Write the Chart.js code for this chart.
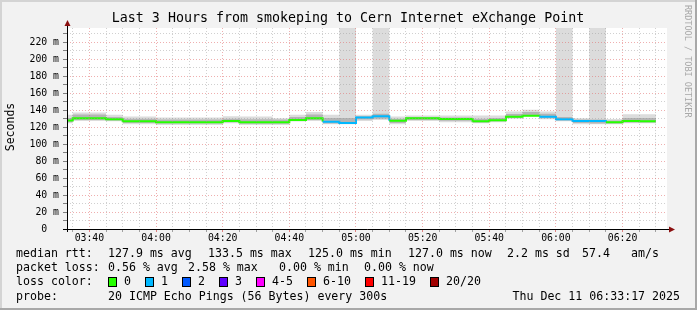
<!DOCTYPE html>
<html>
<head>
<meta charset="utf-8">
<script src="https://cdn.jsdelivr.net/npm/chart.js@4/dist/chart.umd.min.js"></script>
<style>
  html, body { margin: 0; padding: 0; background: #f2f2f2; }
  canvas { display: block; }
</style>
</head>
<body>
<canvas id="myChart" width="697" height="310"></canvas>
<script>
// start of each 5 minute step (last point closes the last step)
const stepTimes = ['03:30','03:35','03:40','03:45','03:50','03:55','04:00','04:05','04:10','04:15','04:20','04:25',
                   '04:30','04:35','04:40','04:45','04:50','04:55','05:00','05:05','05:10','05:15','05:20','05:25',
                   '05:30','05:35','05:40','05:45','05:50','05:55','06:00','06:05','06:10','06:15','06:20','06:25'];
const endTime = '06:30';

// median rtt in ms
const medianRtt = [128,130.5,130.5,129.4,127,127,126,126,125.9,125.9,127.4,126,
                   126,126,128.6,130.6,126.5,125.0,131.4,133,127.6,130.6,130.6,129.8,
                   129.8,127,128.2,132.5,133.5,132.5,129.4,127.4,127.4,125.9,127.4,127.0];
// lost pings (of 20) per step
const lossCount = [0,0,0,0,0,0,0,0,0,0,0,0,
                   0,0,0,0,1,1,1,1,0,0,0,0,
                   0,0,0,0,0,1,1,1,1,0,0,0];
// smoke: outer spread
const smokeTop = [134.6,137.5,137.5,134.6,132.6,132.6,131.4,131.4,131.4,131.4,132.8,132.6,
                  132.6,130.6,134.6,137.9,134.6,237,134.6,237,132.6,133.9,133.9,133.9,
                  133.9,133.9,133.9,138.6,140.6,138.6,237,130.6,237,129.8,135.3,135.3];
const smokeBot = [124.7,127.4,127.4,127,123.5,123.5,122.7,122.7,122.7,122.7,124.7,122.7,
                  122.7,122.7,126.7,127.4,123.5,123.5,127.4,128.6,123.5,127.4,127.4,126,
                  126,124.7,126,130,132.6,129.4,127,123.5,123.5,123.5,124.7,124.7];
// smoke: inner spread
const innerTop = [131,135,135,132,130,130,129,129,129,129,130,129.5,
                  129.5,129,132,135,131,131,133,136,130,132,132,131.5,
                  131.5,130,131,135.5,138,136,132,129,129,128,131,131];
const innerBot = [126,128.5,128.5,128,125,125,124.5,124.5,124.5,124.5,126,124,
                  124,124,127.5,128.5,124.5,124,129,130,125,128.5,128.5,127.5,
                  127.5,125.5,127,131,133,130.5,128,125,124.5,124.5,125.5,125.5];

const xTickLabels = ['03:40','04:00','04:20','04:40','05:00','05:20','05:40','06:00','06:20'];
const yTickLabels = ['0  ','20 m','40 m','60 m','80 m','100 m','120 m','140 m','160 m','180 m','200 m','220 m'];

const lossLabels = ['0','1','2','3','4-5','6-10','11-19','20/20'];
const lossColors = ['#26ff00','#00b8ff','#0059ff','#5e00ff','#ff00ff','#ff5500','#ff0000','#a10000'];

const MONO = '"DejaVu Sans Mono", monospace';

function toMin(s) {
    const p = s.split(':').map(Number);
    return p[0] * 60 + p[1];
}
function fmt(v) {
    const h = Math.floor(v / 60), m = Math.round(v % 60);
    return String(h).padStart(2, '0') + ':' + String(m).padStart(2, '0');
}
function pts(arr) {
    const p = stepTimes.map((t, i) => ({x: toMin(t), y: arr[i]}));
    p.push({x: toMin(endTime), y: arr[arr.length - 1]});
    return p;
}
function lossIdx(n) {
    if (n <= 3) return n;
    if (n <= 5) return 4;
    if (n <= 10) return 5;
    if (n <= 19) return 6;
    return 7;
}

const GRID_MAJOR = 'rgba(226,110,110,0.55)';
const GRID_MINOR = 'rgba(150,150,150,0.45)';

const decor = {
    id: 'decor',
    beforeDraw(chart) {
        const c = chart.ctx, a = chart.chartArea;
        c.save();
        c.fillStyle = '#f2f2f2';
        c.fillRect(0, 0, 697, 310);
        // frame shading
        c.fillStyle = '#d4d4d4';
        c.fillRect(0, 0, 697, 2);
        c.fillRect(0, 0, 2, 310);
        c.fillStyle = '#a8a8a8';
        c.fillRect(0, 308, 697, 2);
        c.fillRect(695, 0, 2, 310);
        c.fillStyle = '#ffffff';
        c.fillRect(a.left, a.top, a.right - a.left, a.bottom - a.top);
        c.restore();
    },
    afterDraw(chart) {
        const c = chart.ctx, a = chart.chartArea;
        c.save();
        // axes
        c.strokeStyle = '#000';
        c.lineWidth = 1;
        c.beginPath();
        c.moveTo(a.left + 0.5, a.bottom + 3);
        c.lineTo(a.left + 0.5, a.top - 5);
        c.moveTo(a.left - 4, a.bottom + 0.5);
        c.lineTo(a.right + 5, a.bottom + 0.5);
        c.stroke();
        // arrows
        c.fillStyle = '#8b1010';
        c.beginPath();
        c.moveTo(a.left + 0.5, a.top - 8);
        c.lineTo(a.left - 2.5, a.top - 2);
        c.lineTo(a.left + 3.5, a.top - 2);
        c.closePath();
        c.fill();
        c.beginPath();
        c.moveTo(a.right + 8, a.bottom + 0.5);
        c.lineTo(a.right + 2, a.bottom - 2.5);
        c.lineTo(a.right + 2, a.bottom + 3.5);
        c.closePath();
        c.fill();

        // title
        c.fillStyle = '#000';
        c.font = '13.3px ' + MONO;
        c.textAlign = 'center';
        c.textBaseline = 'middle';
        c.fillText('Last 3 Hours from smokeping to Cern Internet eXchange Point', 348, 19);

        // y title
        c.save();
        c.translate(11, 127);
        c.rotate(-Math.PI / 2);
        c.font = '11.5px ' + MONO;
        c.fillText('Seconds', 0, 0);
        c.restore();

        // watermark
        c.save();
        c.translate(687, 5);
        c.rotate(Math.PI / 2);
        c.font = '8.5px ' + MONO;
        c.fillStyle = '#a8a8a8';
        c.textAlign = 'left';
        c.fillText('RRDTOOL / TOBI OETIKER', 0, 0);
        c.restore();

        // legend
        c.font = '11.6px ' + MONO;
        c.textAlign = 'left';
        c.fillStyle = '#000';
        const rows = [
            [254, [[16, 'median rtt:'], [108, '127.9 ms avg'], [208, '133.5 ms max'], [308, '125.0 ms min'],
                   [408, '127.0 ms now'], [507, '2.2 ms sd'], [582, '57.4'], [631, 'am/s']]],
            [268, [[16, 'packet loss:'], [108, '0.56 % avg'], [188, '2.58 % max'], [279, '0.00 % min'], [364, '0.00 % now']]],
            [282, [[16, 'loss color:']]],
            [297, [[16, 'probe:'], [108, '20 ICMP Echo Pings (56 Bytes) every 300s']]]
        ];
        rows.forEach(r => r[1].forEach(t => c.fillText(t[1], t[0], r[0])));
        c.textAlign = 'right';
        c.fillText('Thu Dec 11 06:33:17 2025', 680, 297);

        const boxX = [108, 145, 182, 219, 256, 307, 365, 430];
        c.textAlign = 'left';
        for (let i = 0; i < lossLabels.length; i++) {
            c.fillStyle = lossColors[i];
            c.fillRect(boxX[i], 277.5, 8, 9);
            c.strokeStyle = '#000';
            c.strokeRect(boxX[i] + 0.5, 277.5, 8, 9);
            c.fillStyle = '#000';
            c.fillText(lossLabels[i], boxX[i] + 16, 282);
        }
        c.restore();
    }
};

// smoke layers are stacked from the top down, each filled to the bottom of the plot
// Chart.js 'before' = hold the value of a point until the next point
function smokeLayer(arr, color, order) {
    return {data: pts(arr), stepped: 'before', fill: 'start', backgroundColor: color,
            borderColor: 'rgba(0,0,0,0)', borderWidth: 0, pointRadius: 0, order: order};
}

const ctx = document.getElementById('myChart').getContext('2d');
const myChart = new Chart(ctx, {
    type: 'line',
    data: {
        datasets: [
            smokeLayer(smokeTop, '#dcdcdc', 6),
            smokeLayer(innerTop, '#b4b4b4', 5),
            smokeLayer(innerBot, '#dcdcdc', 4),
            smokeLayer(smokeBot, '#ffffff', 3),
            {data: pts(medianRtt), stepped: 'before', fill: false, borderWidth: 2, pointRadius: 0, order: 1,
             borderColor: lossColors[0],
             segment: {borderColor: c => lossColors[lossIdx(lossCount[Math.min(c.p0DataIndex, lossCount.length - 1)])]}}
        ]
    },
    options: {
        responsive: false,
        animation: false,
        events: [],
        layout: {padding: {left: 0, right: 30, top: 28, bottom: 0}},
        plugins: {legend: {display: false}, tooltip: {enabled: false}},
        scales: {
            x: {
                type: 'linear',
                min: toMin('03:33') + 17 / 60,
                max: toMin('06:33') + 20 / 60,
                afterFit: s => { s.height = 81; },
                border: {display: false, dash: [1, 2]},
                grid: {
                    z: 1,
                    tickLength: 3,
                    color: c => xTickLabels.includes(fmt(c.tick.value)) ? GRID_MAJOR : GRID_MINOR,
                    tickColor: c => xTickLabels.includes(fmt(c.tick.value)) ? '#e08080' : '#a0a0a0'
                },
                ticks: {
                    stepSize: 5,
                    includeBounds: false,
                    autoSkip: false,
                    maxRotation: 0,
                    padding: 1,
                    color: '#000',
                    font: {family: MONO, size: 9.8},
                    callback: v => xTickLabels.includes(fmt(v)) ? fmt(v) : ''
                }
            },
            y: {
                min: 0,
                max: 237,
                afterFit: s => { s.width = 67; },
                border: {display: false, dash: [1, 2]},
                grid: {
                    z: 1,
                    tickLength: 4,
                    color: c => (c.tick.value % 20 === 0) ? GRID_MAJOR : GRID_MINOR,
                    tickColor: '#808080'
                },
                ticks: {
                    stepSize: 10,
                    includeBounds: false,
                    autoSkip: false,
                    padding: 4,
                    color: '#000',
                    font: {family: MONO, size: 9.8},
                    callback: v => (v % 20 === 0) ? yTickLabels[v / 20] : ''
                }
            }
        }
    },
    plugins: [decor]
});
</script>
</body>
</html>
